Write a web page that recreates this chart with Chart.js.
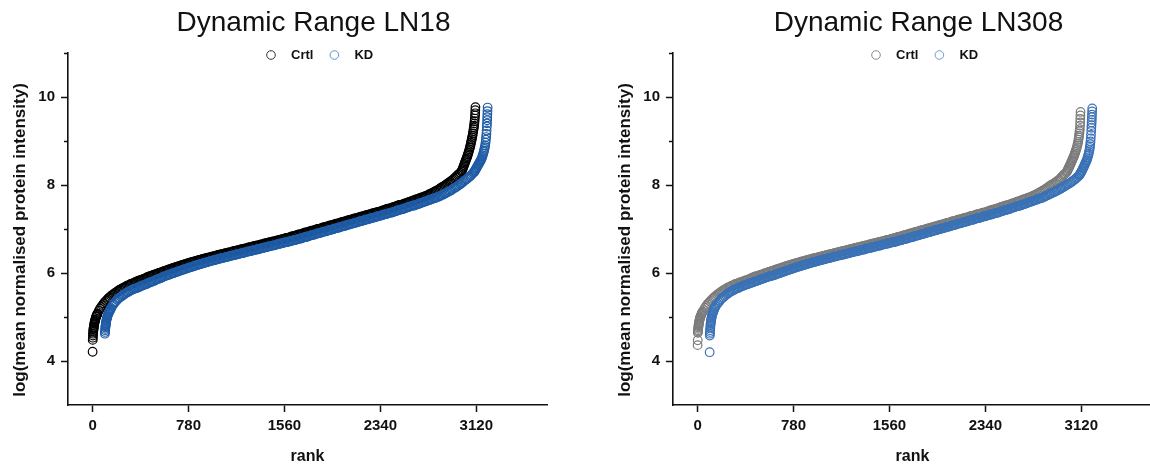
<!DOCTYPE html>
<html>
<head>
<meta charset="utf-8">
<script src="https://cdn.jsdelivr.net/npm/chart.js@4/dist/chart.umd.min.js"></script>
<style>
  html, body { margin: 0; padding: 0; background: #fff; width: 1150px; height: 469px; overflow: hidden; }
  .panel { position: absolute; top: 0; width: 600px; height: 469px; }
  #panelLN18 { left: 0; }
  #panelLN308 { left: 605px; }
</style>
</head>
<body>
<div class="panel" id="panelLN18"><canvas id="chartLN18" width="600" height="469"></canvas></div>
<div class="panel" id="panelLN308"><canvas id="chartLN308" width="600" height="469"></canvas></div>
<script>
// Axis ticks and labels
const rankTicks = [0, 780, 1560, 2340, 3120];
const intensityTicks = [4, 6, 8, 10];
const intensityMinorTicks = [5, 7, 9, 11];
const seriesNames = ['Crtl', 'KD'];
const panelTitles = ['Dynamic Range LN18', 'Dynamic Range LN308'];
const xAxisTitle = 'rank';
const yAxisTitle = 'log(mean normalised protein intensity)';

// [rank, log(mean normalised protein intensity)]
const ln18Crtl = [[0,4.21],[1,4.48],[2,4.53],[3,4.58],[4,4.62],[5,4.66],[6,4.69],[7,4.72],[8,4.74],[9,4.76],[10,4.78],[12,4.82],[14,4.85],[16,4.88],[18,4.90],[20,4.92],[22,4.94],[25,4.97],[28,5.00],[31,5.02],[34,5.04],[37,5.06],[40,5.08],
[50,5.14],[60,5.19],[70,5.23],[80,5.27],[90,5.31],[100,5.34],[110,5.37],[120,5.40],[130,5.43],[140,5.45],[150,5.48],[160,5.50],[170,5.52],[180,5.54],[190,5.56],[200,5.58],[210,5.60],[220,5.62],[230,5.63],[240,5.65],[250,5.66],[260,5.68],[270,5.69],[280,5.71],[290,5.72],[300,5.73],[310,5.75],[320,5.76],[330,5.77],[340,5.78],[350,5.80],[360,5.81],
[370,5.82],[380,5.83],[390,5.84],[400,5.85],[410,5.86],[420,5.87],[430,5.88],[440,5.90],[450,5.91],[460,5.92],[470,5.93],[480,5.94],[490,5.95],[500,5.96],
[510,5.97],[520,5.98],[530,5.99],[540,6.00],[550,6.01],[560,6.02],[570,6.03],[580,6.04],[590,6.05],
[600,6.060],[610,6.070],[620,6.080],[630,6.089],[640,6.099],[650,6.108],[660,6.118],[670,6.127],[680,6.137],[690,6.146],[700,6.155],[710,6.164],[720,6.173],[730,6.182],[740,6.191],[750,6.199],[760,6.208],[770,6.217],[780,6.225],[790,6.233],[800,6.242],[810,6.250],[820,6.258],[830,6.266],[840,6.274],[850,6.282],[860,6.290],[870,6.297],[880,6.305],[890,6.313],[900,6.320],[910,6.327],[920,6.335],[930,6.342],[940,6.349],[950,6.356],[960,6.363],[970,6.370],[980,6.377],[990,6.384],[1000,6.390],
[1010,6.40],[1020,6.41],[1030,6.41],[1040,6.42],[1050,6.43],[1060,6.43],[1070,6.44],[1080,6.45],[1090,6.45],[1100,6.46],[1110,6.47],[1120,6.47],[1130,6.48],[1140,6.49],[1150,6.50],[1160,6.50],[1170,6.51],[1180,6.52],[1190,6.52],[1200,6.53],[1210,6.54],[1220,6.54],[1230,6.55],[1240,6.56],[1250,6.56],[1260,6.57],[1270,6.58],[1280,6.59],[1290,6.59],[1300,6.60],[1310,6.61],[1320,6.61],[1330,6.62],[1340,6.63],[1350,6.63],[1360,6.64],[1370,6.65],[1380,6.65],[1390,6.66],[1400,6.67],[1410,6.68],[1420,6.68],[1430,6.69],[1440,6.70],[1450,6.70],[1460,6.71],[1470,6.72],[1480,6.72],[1490,6.73],[1500,6.74],[1510,6.74],[1520,6.75],[1530,6.76],[1540,6.77],[1550,6.77],[1560,6.78],
[1570,6.79],[1580,6.80],[1590,6.80],[1600,6.81],[1610,6.82],[1620,6.83],[1630,6.84],[1640,6.84],[1650,6.85],[1660,6.86],[1670,6.87],[1680,6.88],[1690,6.88],[1700,6.89],[1710,6.90],[1720,6.91],[1730,6.92],[1740,6.92],[1750,6.93],[1760,6.94],[1770,6.95],[1780,6.96],[1790,6.96],[1800,6.97],[1810,6.98],[1820,6.99],[1830,7.00],[1840,7.00],[1850,7.01],[1860,7.02],[1870,7.03],[1880,7.04],[1890,7.04],[1900,7.05],[1910,7.06],[1920,7.07],[1930,7.08],[1940,7.08],[1950,7.09],[1960,7.10],[1970,7.11],[1980,7.12],[1990,7.12],[2000,7.13],[2010,7.14],[2020,7.15],[2030,7.16],[2040,7.16],[2050,7.17],[2060,7.18],[2070,7.19],[2080,7.20],[2090,7.20],[2100,7.21],[2110,7.22],[2120,7.23],[2130,7.24],[2140,7.24],[2150,7.25],[2160,7.26],[2170,7.27],[2180,7.28],[2190,7.28],[2200,7.29],[2210,7.30],[2220,7.31],[2230,7.32],[2240,7.32],[2250,7.33],[2260,7.34],[2270,7.35],[2280,7.36],[2290,7.36],[2300,7.37],[2310,7.38],[2320,7.39],[2330,7.39],[2340,7.40],
[2350,7.41],[2360,7.42],[2370,7.43],[2380,7.44],[2390,7.45],[2400,7.46],[2410,7.46],[2420,7.47],[2430,7.48],[2440,7.49],[2450,7.50],[2460,7.51],[2470,7.52],[2480,7.53],[2490,7.54],[2500,7.55],[2510,7.55],[2520,7.56],[2530,7.57],[2540,7.58],[2550,7.59],[2560,7.60],[2570,7.61],[2580,7.62],[2590,7.63],[2600,7.64],[2610,7.65],[2620,7.66],[2630,7.67],[2640,7.68],[2650,7.69],[2660,7.70],[2670,7.71],[2680,7.72],[2690,7.73],[2700,7.74],
[2710,7.75],[2720,7.76],[2730,7.78],[2740,7.79],[2750,7.80],[2760,7.82],[2770,7.83],[2780,7.85],[2790,7.86],[2800,7.88],[2810,7.89],[2820,7.91],[2830,7.93],[2840,7.95],[2850,7.96],[2860,7.98],[2870,8.00],[2880,8.02],[2890,8.04],[2900,8.06],[2910,8.08],[2920,8.10],[2930,8.12],[2940,8.15],[2950,8.17],[2960,8.20],[2970,8.23],[2980,8.25],[2990,8.28],[3000,8.31],
[3004,8.33],[3008,8.36],[3012,8.39],[3016,8.42],[3020,8.45],[3024,8.48],[3028,8.51],[3032,8.54],[3036,8.57],[3040,8.60],[3044,8.63],[3048,8.66],[3052,8.70],[3056,8.73],[3060,8.77],[3064,8.81],[3068,8.85],[3071,8.88],[3074,8.92],[3077,8.96],[3080,9.00],[3083,9.04],[3086,9.08],[3089,9.12],[3092,9.17],[3095,9.22],[3098,9.27],[3100,9.31],[3102,9.35],[3104,9.40],[3106,9.45],[3108,9.51],[3110,9.58],[3111,9.63],[3112,9.70],[3113,9.77]];

const ln18KD = [[100,4.62],[101,4.66],[102,4.70],[103,4.73],[104,4.76],[105,4.79],[106,4.81],[107,4.83],[108,4.85],[109,4.87],[110,4.89],[112,4.92],[114,4.95],[116,4.97],[118,4.99],[120,5.01],[123,5.04],[126,5.06],[129,5.08],[132,5.10],[135,5.12],[138,5.14],[141,5.15],[144,5.17],[147,5.18],[150,5.20],
[160,5.25],[170,5.29],[180,5.33],[190,5.36],[200,5.39],[210,5.42],[220,5.44],[230,5.46],[240,5.48],[250,5.50],[260,5.52],[270,5.54],[280,5.56],[290,5.57],[300,5.59],[310,5.60],[320,5.62],[330,5.63],[340,5.64],[350,5.65],[360,5.66],
[370,5.67],[380,5.68],[390,5.70],[400,5.71],[410,5.72],[420,5.73],[430,5.74],[440,5.75],[450,5.77],[460,5.78],[470,5.79],[480,5.80],[490,5.81],[500,5.82],[510,5.84],[520,5.85],[530,5.86],[540,5.87],[550,5.88],[560,5.89],[570,5.91],[580,5.92],[590,5.93],[600,5.94],
[610,5.95],[620,5.96],[630,5.97],[640,5.98],[650,5.99],[660,6.00],[670,6.01],[680,6.02],[690,6.03],
[700,6.040],[710,6.050],[720,6.060],[730,6.069],[740,6.079],[750,6.088],[760,6.098],[770,6.107],[780,6.117],[790,6.126],[800,6.135],[810,6.144],[820,6.153],[830,6.162],[840,6.171],[850,6.179],[860,6.188],[870,6.197],[880,6.205],[890,6.213],[900,6.222],[910,6.230],[920,6.238],[930,6.246],[940,6.254],[950,6.262],[960,6.270],[970,6.277],[980,6.285],[990,6.293],[1000,6.300],[1010,6.307],[1020,6.315],[1030,6.322],[1040,6.329],[1050,6.336],[1060,6.343],[1070,6.350],[1080,6.357],[1090,6.364],[1100,6.370],
[1110,6.38],[1120,6.39],[1130,6.39],[1140,6.40],[1150,6.41],[1160,6.41],[1170,6.42],[1180,6.43],[1190,6.43],[1200,6.44],[1210,6.45],[1220,6.45],[1230,6.46],[1240,6.47],[1250,6.48],[1260,6.48],[1270,6.49],[1280,6.50],[1290,6.50],[1300,6.51],[1310,6.52],[1320,6.52],[1330,6.53],[1340,6.54],[1350,6.54],[1360,6.55],[1370,6.56],[1380,6.57],[1390,6.57],[1400,6.58],[1410,6.59],[1420,6.59],[1430,6.60],[1440,6.61],[1450,6.61],[1460,6.62],[1470,6.63],[1480,6.63],[1490,6.64],[1500,6.65],[1510,6.66],[1520,6.66],[1530,6.67],[1540,6.68],[1550,6.68],[1560,6.69],[1570,6.70],[1580,6.70],[1590,6.71],[1600,6.72],[1610,6.72],[1620,6.73],[1630,6.74],[1640,6.75],[1650,6.75],[1660,6.76],
[1670,6.77],[1680,6.78],[1690,6.78],[1700,6.79],[1710,6.80],[1720,6.81],[1730,6.82],[1740,6.82],[1750,6.83],[1760,6.84],[1770,6.85],[1780,6.86],[1790,6.86],[1800,6.87],[1810,6.88],[1820,6.89],[1830,6.90],[1840,6.90],[1850,6.91],[1860,6.92],[1870,6.93],[1880,6.94],[1890,6.94],[1900,6.95],[1910,6.96],[1920,6.97],[1930,6.98],[1940,6.98],[1950,6.99],[1960,7.00],[1970,7.01],[1980,7.02],[1990,7.02],[2000,7.03],[2010,7.04],[2020,7.05],[2030,7.06],[2040,7.06],[2050,7.07],[2060,7.08],[2070,7.09],[2080,7.10],[2090,7.10],[2100,7.11],[2110,7.12],[2120,7.13],[2130,7.14],[2140,7.14],[2150,7.15],[2160,7.16],[2170,7.17],[2180,7.18],[2190,7.18],[2200,7.19],[2210,7.20],[2220,7.21],[2230,7.22],[2240,7.22],[2250,7.23],[2260,7.24],[2270,7.25],[2280,7.26],[2290,7.26],[2300,7.27],[2310,7.28],[2320,7.29],[2330,7.30],[2340,7.30],[2350,7.31],[2360,7.32],[2370,7.33],[2380,7.34],[2390,7.34],[2400,7.35],[2410,7.36],[2420,7.37],[2430,7.37],[2440,7.38],
[2450,7.39],[2460,7.40],[2470,7.41],[2480,7.42],[2490,7.43],[2500,7.44],[2510,7.44],[2520,7.45],[2530,7.46],[2540,7.47],[2550,7.48],[2560,7.49],[2570,7.50],[2580,7.51],[2590,7.52],[2600,7.53],[2610,7.53],[2620,7.54],[2630,7.55],[2640,7.56],[2650,7.57],[2660,7.58],[2670,7.59],[2680,7.60],[2690,7.61],[2700,7.62],[2710,7.63],[2720,7.64],[2730,7.65],[2740,7.66],[2750,7.67],[2760,7.68],[2770,7.69],[2780,7.70],[2790,7.71],[2800,7.72],
[2810,7.73],[2820,7.74],[2830,7.76],[2840,7.77],[2850,7.78],[2860,7.80],[2870,7.81],[2880,7.83],[2890,7.84],[2900,7.86],[2910,7.87],[2920,7.89],[2930,7.91],[2940,7.93],[2950,7.94],[2960,7.96],[2970,7.98],[2980,8.00],[2990,8.02],[3000,8.04],
[3010,8.06],[3020,8.09],[3030,8.11],[3040,8.13],[3050,8.15],[3060,8.18],[3070,8.20],[3080,8.23],[3090,8.26],[3100,8.29],
[3104,8.30],[3108,8.32],[3112,8.34],[3116,8.36],[3120,8.38],[3124,8.40],[3128,8.42],[3132,8.44],[3136,8.46],[3140,8.48],[3144,8.50],[3148,8.52],[3152,8.54],[3156,8.56],[3160,8.58],[3164,8.61],[3168,8.64],[3172,8.67],[3176,8.71],[3180,8.75],[3183,8.78],[3186,8.82],[3189,8.86],[3192,8.90],[3195,8.96],[3198,9.03],[3200,9.09],[3202,9.16],[3204,9.24],[3206,9.33],[3207,9.40],[3208,9.47],[3209,9.54],[3210,9.61],[3211,9.68],[3212,9.76]];

const ln308Crtl = [[0,4.36],[1,4.47],[2,4.64],[3,4.67],[4,4.70],[5,4.73],[6,4.76],[7,4.79],[8,4.81],[9,4.83],[10,4.85],[12,4.88],[14,4.91],[16,4.94],[18,4.96],[20,4.98],[22,5.00],[25,5.02],[28,5.04],[31,5.06],[34,5.08],[37,5.10],[40,5.12],
[50,5.16],[60,5.21],[70,5.25],[80,5.29],[90,5.32],[100,5.35],[110,5.38],[120,5.41],[130,5.44],[140,5.46],[150,5.48],[160,5.51],[170,5.53],[180,5.55],[190,5.57],[200,5.59],[210,5.61],[220,5.62],[230,5.64],[240,5.66],[250,5.67],[260,5.68],[270,5.70],[280,5.71],[290,5.72],[300,5.74],[310,5.75],[320,5.76],[330,5.77],[340,5.78],[350,5.79],[360,5.80],
[370,5.81],[380,5.82],[390,5.83],[400,5.84],[410,5.85],[420,5.86],[430,5.87],[440,5.89],[450,5.90],[460,5.91],[470,5.92],[480,5.93],[490,5.935],[500,5.945],
[510,5.955],[520,5.965],[530,5.975],[540,5.985],[550,5.995],[560,6.005],[570,6.015],[580,6.025],[590,6.033],
[600,6.040],[610,6.050],[620,6.060],[630,6.069],[640,6.079],[650,6.088],[660,6.098],[670,6.107],[680,6.117],[690,6.126],[700,6.135],[710,6.144],[720,6.153],[730,6.162],[740,6.171],[750,6.179],[760,6.188],[770,6.197],[780,6.205],[790,6.213],[800,6.222],[810,6.230],[820,6.238],[830,6.246],[840,6.254],[850,6.262],[860,6.270],[870,6.277],[880,6.285],[890,6.293],[900,6.300],[910,6.307],[920,6.315],[930,6.322],[940,6.329],[950,6.336],[960,6.343],[970,6.350],[980,6.357],[990,6.364],[1000,6.370],
[1010,6.38],[1020,6.39],[1030,6.39],[1040,6.40],[1050,6.41],[1060,6.41],[1070,6.42],[1080,6.43],[1090,6.43],[1100,6.44],[1110,6.45],[1120,6.45],[1130,6.46],[1140,6.47],[1150,6.48],[1160,6.48],[1170,6.49],[1180,6.50],[1190,6.50],[1200,6.51],[1210,6.52],[1220,6.52],[1230,6.53],[1240,6.54],[1250,6.54],[1260,6.55],[1270,6.56],[1280,6.57],[1290,6.57],[1300,6.58],[1310,6.59],[1320,6.59],[1330,6.60],[1340,6.61],[1350,6.61],[1360,6.62],[1370,6.63],[1380,6.63],[1390,6.64],[1400,6.65],[1410,6.66],[1420,6.66],[1430,6.67],[1440,6.68],[1450,6.68],[1460,6.69],[1470,6.70],[1480,6.70],[1490,6.71],[1500,6.72],[1510,6.72],[1520,6.73],[1530,6.74],[1540,6.75],[1550,6.75],[1560,6.76],
[1570,6.77],[1580,6.78],[1590,6.78],[1600,6.79],[1610,6.80],[1620,6.81],[1630,6.82],[1640,6.82],[1650,6.83],[1660,6.84],[1670,6.85],[1680,6.86],[1690,6.86],[1700,6.87],[1710,6.88],[1720,6.89],[1730,6.90],[1740,6.90],[1750,6.91],[1760,6.92],[1770,6.93],[1780,6.94],[1790,6.94],[1800,6.95],[1810,6.96],[1820,6.97],[1830,6.98],[1840,6.98],[1850,6.99],[1860,7.00],[1870,7.01],[1880,7.02],[1890,7.02],[1900,7.03],[1910,7.04],[1920,7.05],[1930,7.06],[1940,7.06],[1950,7.07],[1960,7.08],[1970,7.09],[1980,7.10],[1990,7.10],[2000,7.11],[2010,7.12],[2020,7.13],[2030,7.14],[2040,7.14],[2050,7.15],[2060,7.16],[2070,7.17],[2080,7.18],[2090,7.18],[2100,7.19],[2110,7.20],[2120,7.21],[2130,7.22],[2140,7.22],[2150,7.23],[2160,7.24],[2170,7.25],[2180,7.26],[2190,7.26],[2200,7.27],[2210,7.28],[2220,7.29],[2230,7.30],[2240,7.30],[2250,7.31],[2260,7.32],[2270,7.33],[2280,7.34],[2290,7.34],[2300,7.35],[2310,7.36],[2320,7.37],[2330,7.37],[2340,7.38],
[2350,7.39],[2360,7.40],[2370,7.41],[2380,7.42],[2390,7.43],[2400,7.44],[2410,7.44],[2420,7.45],[2430,7.46],[2440,7.47],[2450,7.48],[2460,7.49],[2470,7.50],[2480,7.51],[2490,7.52],[2500,7.53],[2510,7.53],[2520,7.54],[2530,7.55],[2540,7.56],[2550,7.57],[2560,7.58],[2570,7.59],[2580,7.60],[2590,7.61],[2600,7.62],[2610,7.63],[2620,7.64],[2630,7.65],[2640,7.66],[2650,7.67],[2660,7.68],[2670,7.69],[2680,7.70],[2690,7.71],[2700,7.72],
[2710,7.73],[2720,7.74],[2730,7.76],[2740,7.77],[2750,7.78],[2760,7.80],[2770,7.81],[2780,7.83],[2790,7.84],[2800,7.86],[2810,7.88],[2820,7.89],[2830,7.91],[2840,7.93],[2850,7.95],[2860,7.97],[2870,7.99],[2880,8.01],[2890,8.02],[2900,8.04],[2910,8.06],[2920,8.08],[2930,8.10],[2940,8.12],[2950,8.15],[2960,8.18],[2970,8.21],[2980,8.24],[2990,8.26],[3000,8.29],
[3004,8.31],[3008,8.33],[3012,8.36],[3016,8.38],[3020,8.40],[3024,8.43],[3028,8.45],[3032,8.48],[3036,8.50],[3040,8.53],[3044,8.55],[3048,8.58],[3052,8.61],[3056,8.63],[3060,8.66],[3064,8.69],[3068,8.72],[3072,8.75],[3076,8.79],[3080,8.82],[3084,8.86],[3088,8.90],[3091,8.94],[3094,8.98],[3097,9.03],[3100,9.08],[3102,9.12],[3104,9.17],[3106,9.22],[3108,9.27],[3110,9.35],[3111,9.42],[3112,9.50],[3113,9.58],[3114,9.66]];

const ln308KD = [[98,4.20],[99,4.58],[100,4.62],[101,4.66],[102,4.70],[103,4.74],[104,4.78],[105,4.82],[106,4.85],[107,4.88],[108,4.90],[110,4.93],[112,4.96],[114,4.99],[116,5.02],[118,5.04],[120,5.06],[123,5.09],[126,5.11],[129,5.13],[132,5.16],[136,5.19],[140,5.21],[145,5.24],[150,5.26],
[160,5.30],[170,5.33],[180,5.37],[190,5.40],[200,5.43],[210,5.45],[220,5.48],[230,5.50],[240,5.52],[250,5.54],[260,5.56],[270,5.58],[280,5.59],[290,5.61],[300,5.62],[310,5.64],[320,5.65],[330,5.66],[340,5.67],[350,5.69],[360,5.70],[370,5.71],[380,5.72],[390,5.73],[400,5.74],[410,5.75],[420,5.76],[430,5.77],[440,5.78],[450,5.79],[460,5.80],[470,5.81],[480,5.82],[490,5.83],[500,5.84],[510,5.85],[520,5.86],[530,5.87],[540,5.88],[550,5.89],[560,5.90],[570,5.91],[580,5.92],[590,5.93],[600,5.93],
[610,5.94],[620,5.95],[630,5.96],[640,5.97],[650,5.98],[660,5.99],[670,6.00],[680,6.01],[690,6.02],
[700,6.030],[710,6.040],[720,6.050],[730,6.059],[740,6.069],[750,6.078],[760,6.088],[770,6.097],[780,6.107],[790,6.116],[800,6.125],[810,6.134],[820,6.143],[830,6.152],[840,6.161],[850,6.169],[860,6.178],[870,6.187],[880,6.195],[890,6.203],[900,6.212],[910,6.220],[920,6.228],[930,6.236],[940,6.244],[950,6.252],[960,6.260],[970,6.267],[980,6.275],[990,6.283],[1000,6.290],[1010,6.297],[1020,6.305],[1030,6.312],[1040,6.319],[1050,6.326],[1060,6.333],[1070,6.340],[1080,6.347],[1090,6.354],[1100,6.360],
[1110,6.37],[1120,6.38],[1130,6.38],[1140,6.39],[1150,6.40],[1160,6.40],[1170,6.41],[1180,6.42],[1190,6.42],[1200,6.43],[1210,6.44],[1220,6.44],[1230,6.45],[1240,6.46],[1250,6.47],[1260,6.47],[1270,6.48],[1280,6.49],[1290,6.49],[1300,6.50],[1310,6.51],[1320,6.51],[1330,6.52],[1340,6.53],[1350,6.53],[1360,6.54],[1370,6.55],[1380,6.56],[1390,6.56],[1400,6.57],[1410,6.58],[1420,6.58],[1430,6.59],[1440,6.60],[1450,6.60],[1460,6.61],[1470,6.62],[1480,6.62],[1490,6.63],[1500,6.64],[1510,6.65],[1520,6.65],[1530,6.66],[1540,6.67],[1550,6.67],[1560,6.68],[1570,6.69],[1580,6.69],[1590,6.70],[1600,6.71],[1610,6.71],[1620,6.72],[1630,6.73],[1640,6.74],[1650,6.74],[1660,6.75],
[1670,6.76],[1680,6.77],[1690,6.77],[1700,6.78],[1710,6.79],[1720,6.80],[1730,6.81],[1740,6.81],[1750,6.82],[1760,6.83],[1770,6.84],[1780,6.85],[1790,6.85],[1800,6.86],[1810,6.87],[1820,6.88],[1830,6.89],[1840,6.89],[1850,6.90],[1860,6.91],[1870,6.92],[1880,6.93],[1890,6.93],[1900,6.94],[1910,6.95],[1920,6.96],[1930,6.97],[1940,6.97],[1950,6.98],[1960,6.99],[1970,7.00],[1980,7.01],[1990,7.01],[2000,7.02],[2010,7.03],[2020,7.04],[2030,7.05],[2040,7.05],[2050,7.06],[2060,7.07],[2070,7.08],[2080,7.09],[2090,7.09],[2100,7.10],[2110,7.11],[2120,7.12],[2130,7.13],[2140,7.13],[2150,7.14],[2160,7.15],[2170,7.16],[2180,7.17],[2190,7.17],[2200,7.18],[2210,7.19],[2220,7.20],[2230,7.21],[2240,7.21],[2250,7.22],[2260,7.23],[2270,7.24],[2280,7.25],[2290,7.25],[2300,7.26],[2310,7.27],[2320,7.28],[2330,7.29],[2340,7.29],[2350,7.30],[2360,7.31],[2370,7.32],[2380,7.33],[2390,7.33],[2400,7.34],[2410,7.35],[2420,7.36],[2430,7.36],[2440,7.37],
[2450,7.38],[2460,7.39],[2470,7.40],[2480,7.41],[2490,7.42],[2500,7.43],[2510,7.43],[2520,7.44],[2530,7.45],[2540,7.46],[2550,7.47],[2560,7.48],[2570,7.49],[2580,7.50],[2590,7.51],[2600,7.52],[2610,7.52],[2620,7.53],[2630,7.54],[2640,7.55],[2650,7.56],[2660,7.57],[2670,7.58],[2680,7.59],[2690,7.60],[2700,7.61],[2710,7.62],[2720,7.63],[2730,7.64],[2740,7.65],[2750,7.66],[2760,7.67],[2770,7.68],[2780,7.69],[2790,7.70],[2800,7.71],
[2810,7.72],[2820,7.73],[2830,7.75],[2840,7.76],[2850,7.77],[2860,7.79],[2870,7.80],[2880,7.81],[2890,7.83],[2900,7.84],[2910,7.85],[2920,7.87],[2930,7.88],[2940,7.90],[2950,7.91],[2960,7.93],[2970,7.95],[2980,7.96],[2990,7.98],[3000,8.00],[3010,8.02],[3020,8.03],[3030,8.05],[3040,8.07],[3050,8.09],[3060,8.11],[3070,8.13],[3080,8.16],[3090,8.18],[3100,8.21],
[3104,8.22],[3108,8.24],[3112,8.26],[3116,8.28],[3120,8.30],[3124,8.32],[3128,8.34],[3132,8.37],[3136,8.39],[3140,8.41],[3144,8.44],[3148,8.46],[3152,8.49],[3156,8.51],[3160,8.54],[3164,8.56],[3168,8.59],[3172,8.63],[3176,8.67],[3180,8.71],[3183,8.75],[3186,8.79],[3189,8.84],[3191,8.88],[3193,8.93],[3195,8.99],[3197,9.06],[3199,9.14],[3201,9.23],[3202,9.30],[3203,9.36],[3204,9.42],[3205,9.48],[3206,9.54],[3207,9.60],[3208,9.67],[3209,9.74]];

const FONT = '"Liberation Sans", Arial, Helvetica, sans-serif';
const INK = '#111111';
const MARKER_RADIUS = 4.3;

// Title, y-axis title, minor y ticks and the in-plot legend
const panelDecor = {
  id: 'panelDecor',
  afterDraw(chart, args, opts) {
    const { ctx, chartArea, scales } = chart;
    ctx.save();

    ctx.fillStyle = INK;
    ctx.font = `28px ${FONT}`;
    ctx.textAlign = 'center';
    ctx.textBaseline = 'alphabetic';
    ctx.fillText(opts.title, (chartArea.left + chartArea.right) / 2 + 6, 31);

    ctx.strokeStyle = INK;
    ctx.lineWidth = 1.5;
    for (const v of intensityMinorTicks) {
      const y = Math.round(scales.y.getPixelForValue(v)) + 0.5;
      ctx.beginPath();
      ctx.moveTo(chartArea.left - 4, y);
      ctx.lineTo(chartArea.left, y);
      ctx.stroke();
    }

    ctx.save();
    ctx.translate(20, chartArea.top + 187);
    ctx.rotate(-Math.PI / 2);
    ctx.font = `bold 17px ${FONT}`;
    ctx.textAlign = 'center';
    ctx.textBaseline = 'middle';
    ctx.fillText(yAxisTitle, 0, 0);
    ctx.restore();

    ctx.font = `bold 13px ${FONT}`;
    ctx.textBaseline = 'middle';
    ctx.textAlign = 'left';
    const ly = 55;
    let lx = chartArea.left + 203;
    const legendSets = seriesNames.map(n => chart.data.datasets.find(d => d.label === n));
    legendSets.forEach(ds => {
      ctx.beginPath();
      ctx.arc(lx, ly, MARKER_RADIUS, 0, Math.PI * 2);
      ctx.strokeStyle = ds.legendColor;
      ctx.lineWidth = 1;
      ctx.stroke();
      ctx.fillStyle = INK;
      ctx.fillText(ds.label, lx + 20, ly + 0.5);
      lx += 20 + ctx.measureText(ds.label).width + 21;
    });

    ctx.restore();
  }
};

function toPoints(pairs) {
  return pairs.map(([x, y]) => ({ x, y }));
}

function makePanel(canvasId, title, crtl, kd, crtlColor, kdColor, crtlLegend, kdLegend) {
  const dataset = (label, pairs, color, legendColor, order) => ({
    label,
    data: toPoints(pairs),
    order,
    showLine: false,
    pointStyle: 'circle',
    pointRadius: MARKER_RADIUS,
    pointBorderWidth: 1.2,
    pointBackgroundColor: 'rgba(0,0,0,0)',
    pointBorderColor: color,
    borderColor: color,
    backgroundColor: 'rgba(0,0,0,0)',
    legendColor
  });

  return new Chart(document.getElementById(canvasId), {
    type: 'scatter',
    data: {
      datasets: [
        dataset(seriesNames[0], crtl, crtlColor, crtlLegend, 2),
        dataset(seriesNames[1], kd, kdColor, kdLegend, 1)
      ]
    },
    options: {
      responsive: false,
      animation: false,
      events: [],
      devicePixelRatio: 1,
      layout: { padding: { top: 53, right: 53, bottom: 0, left: 0 } },
      plugins: {
        legend: { display: false },
        title: { display: false },
        tooltip: { enabled: false },
        panelDecor: { title }
      },
      scales: {
        x: {
          type: 'linear',
          min: -200,
          max: 3695,
          afterBuildTicks: s => { s.ticks = rankTicks.map(value => ({ value })); },
          afterFit: s => { s.height = 64; },
          ticks: {
            color: INK,
            padding: 5,
            maxRotation: 0,
            font: { family: FONT, size: 15, weight: 'bold' },
            callback: v => String(v)
          },
          grid: { display: true, drawOnChartArea: false, drawTicks: true, tickLength: 7, tickColor: INK, tickWidth: 1.5 },
          border: { display: true, color: INK, width: 1.6 },
          title: {
            display: true,
            text: xAxisTitle,
            color: INK,
            font: { family: FONT, size: 16, weight: 'bold' },
            padding: { top: 0, bottom: 3 }
          }
        },
        y: {
          type: 'linear',
          min: 3,
          max: 11,
          afterBuildTicks: s => { s.ticks = intensityTicks.map(value => ({ value })); },
          afterFit: s => { s.width = 68; },
          ticks: {
            color: INK,
            padding: 6,
            font: { family: FONT, size: 15, weight: 'bold' },
            callback: v => String(v)
          },
          grid: { display: true, drawOnChartArea: false, drawTicks: true, tickLength: 7, tickColor: INK, tickWidth: 1.5 },
          border: { display: true, color: INK, width: 1.6 }
        }
      }
    },
    plugins: [panelDecor]
  });
}

makePanel('chartLN18', panelTitles[0], ln18Crtl, ln18KD, '#000000', '#1f5ca6', '#333333', '#5f8fca');
makePanel('chartLN308', panelTitles[1], ln308Crtl, ln308KD, '#7c7c7c', '#3a72b6', '#8a8a8a', '#6f9ad0');
</script>
</body>
</html>
